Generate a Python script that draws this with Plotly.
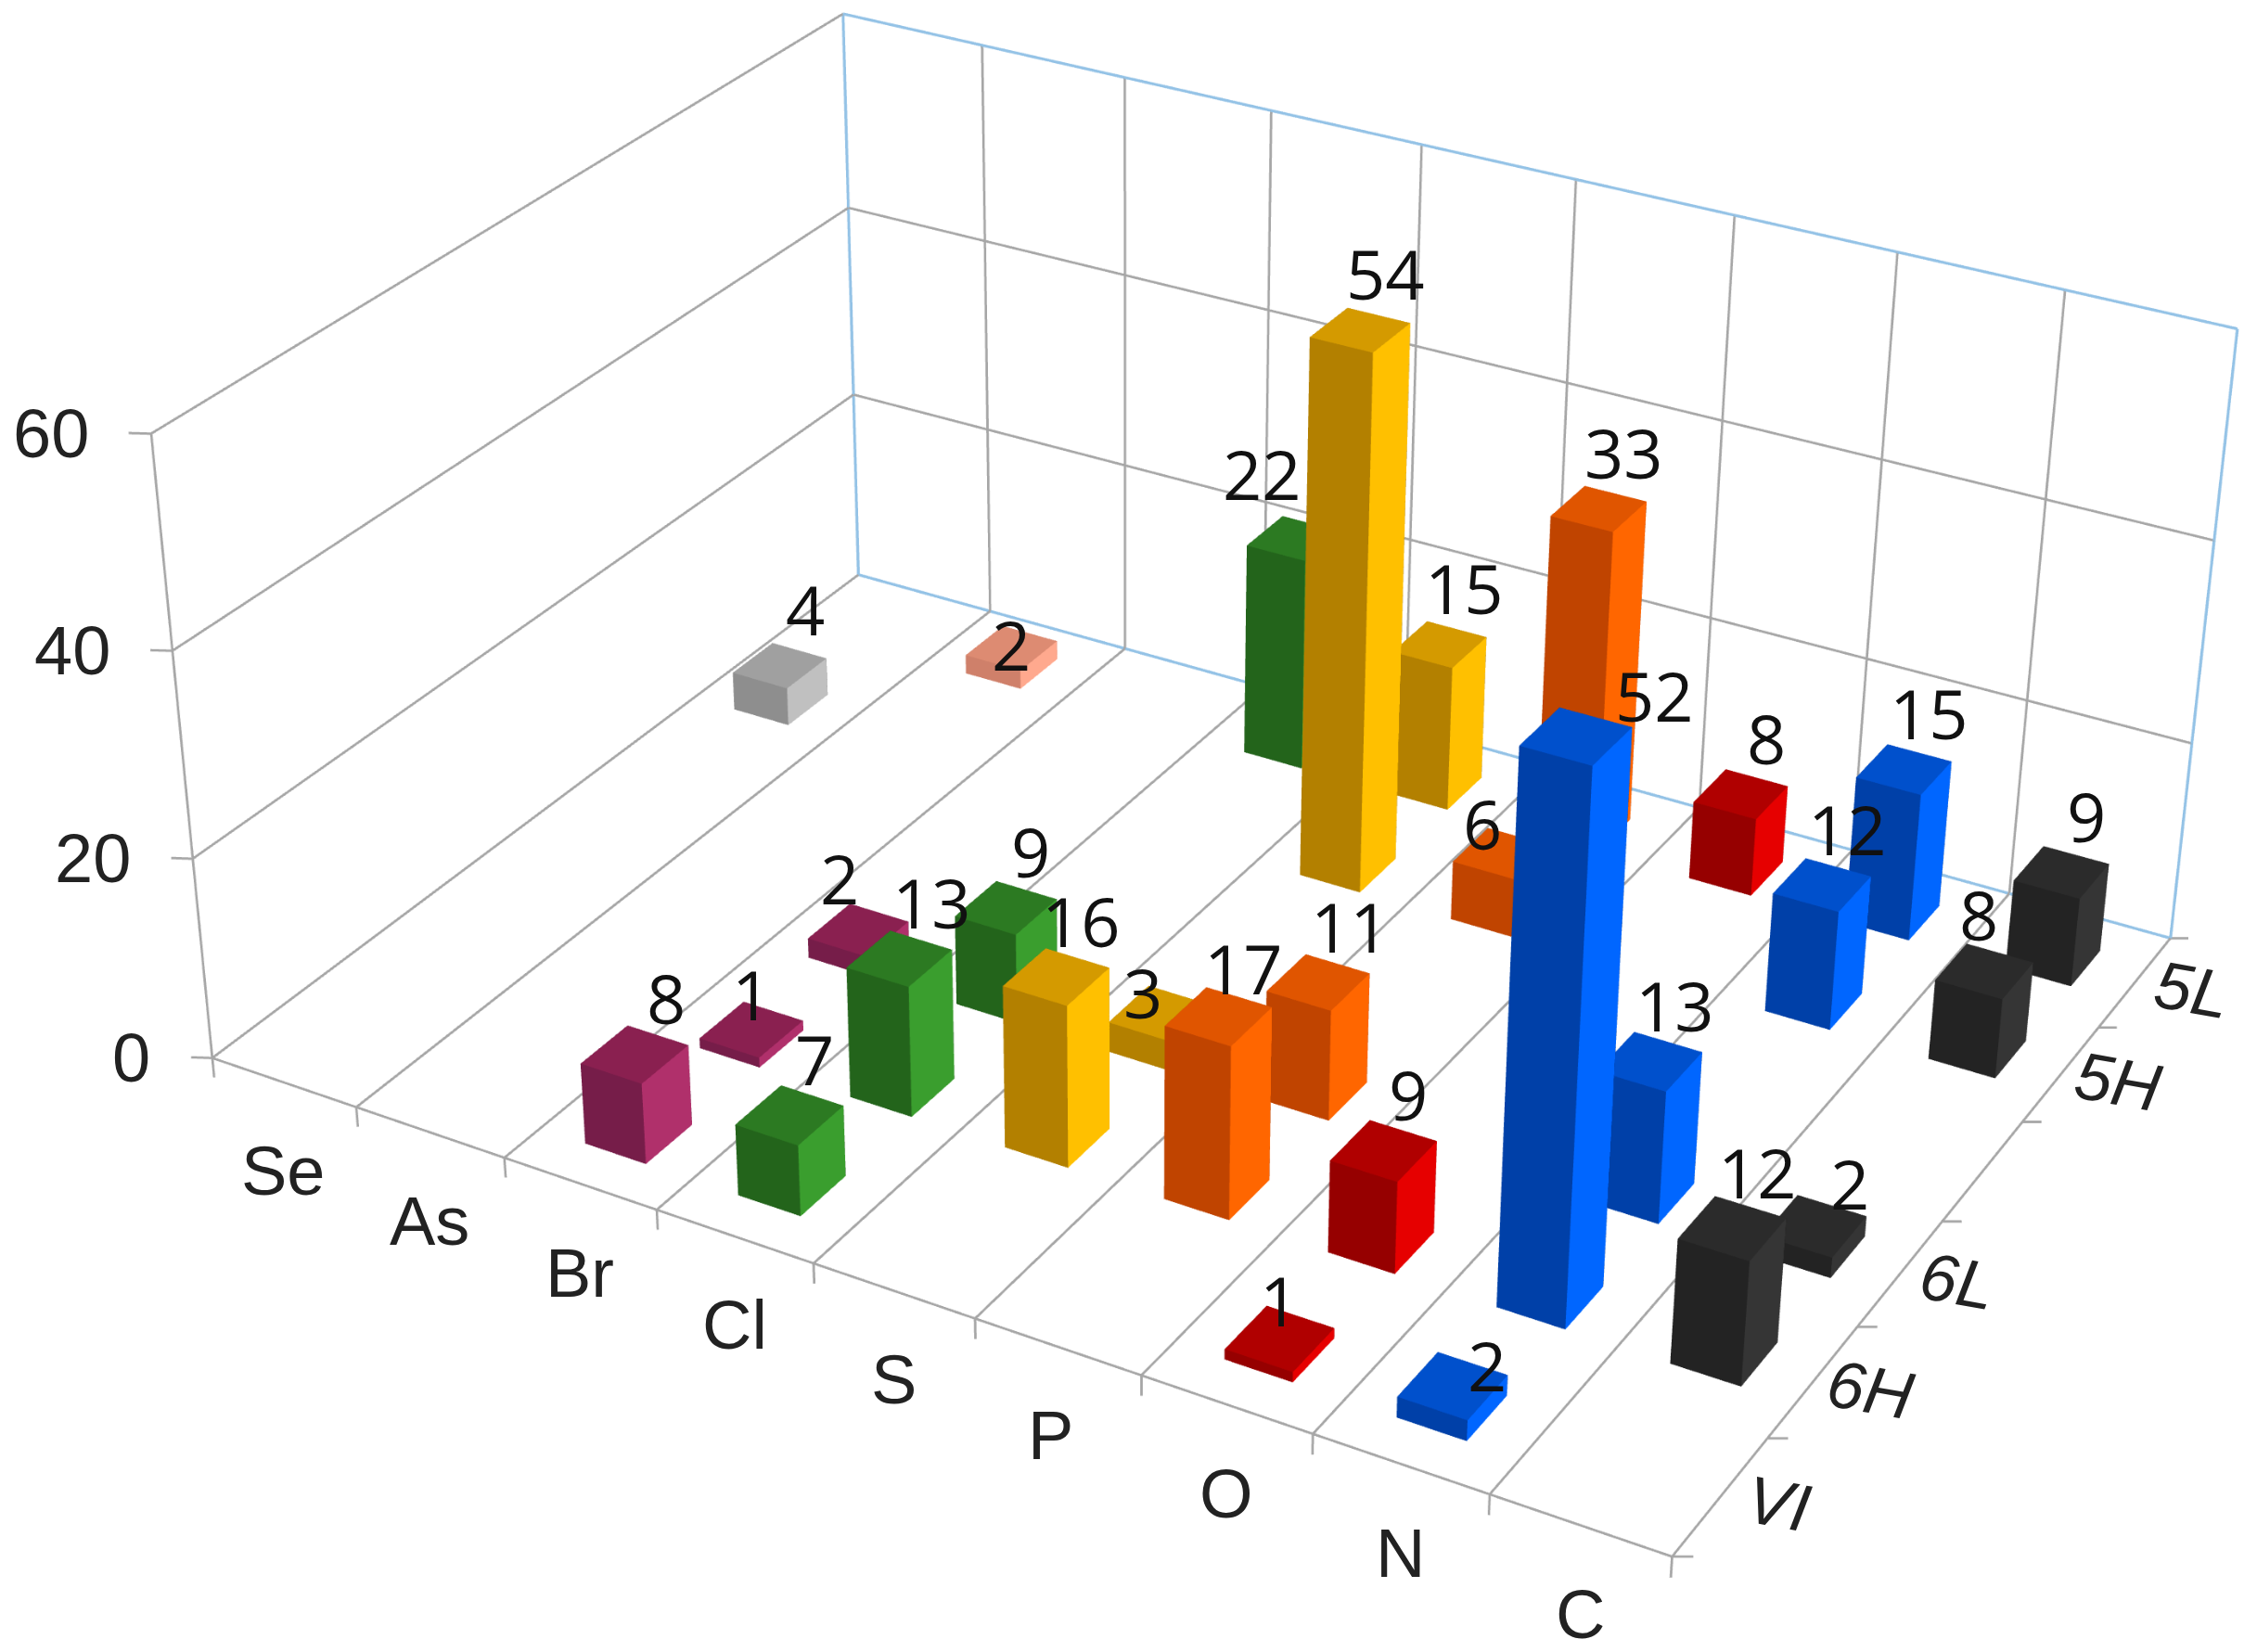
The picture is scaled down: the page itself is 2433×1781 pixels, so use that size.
import plotly.graph_objects as go

# ---------- data ----------
elements = ["Se", "As", "Br", "Cl", "S", "P", "O", "N", "C"]
rows = ["VI", "6H", "6L", "", "5H", "5L"]
Se = [None, None, None, None, 4, None]
As = [None, None, None, None, None, 2]
Br = [8, 1, 2, None, None, None]
Cl = [7, 13, 9, None, None, 22]
S_ = [None, 16, 3, None, 54, 15]
P_ = [None, 17, 11, None, 6, 33]
O_ = [1, 9, None, None, None, 8]
N_ = [2, 52, 13, None, 12, 15]
C_ = [None, 12, 2, None, 8, 9]
series_values = [Se, As, Br, Cl, S_, P_, O_, N_, C_]
z_ticks = [0, 20, 40, 60]

# face colours: top, front, right
shades = [
    ("#a0a0a0", "#8e8e8e", "#c0c0c0"),
    ("#dd8b72", "#cf806a", "#ffa98e"),
    ("#8a2050", "#761d49", "#b0306b"),
    ("#2c7a22", "#23641b", "#3a9e2e"),
    ("#d49a00", "#b38000", "#ffc000"),
    ("#e05500", "#c04400", "#ff6600"),
    ("#b00000", "#960000", "#e60000"),
    ("#0050cc", "#0040a8", "#0066ff"),
    ("#2b2b2b", "#232323", "#353535"),
]
BAR = 0.40
GRID = "#a6a6a6"
EDGE = "#93c2e6"
LABEL_FONT = "Open Sans"
AXIS_FONT = "Liberation Sans"

# camera in world units where the u=0..9 span is 1 wide
FS = 2.8109
WIN_W, WIN_H = 2433, 1781
FIG_H = round(WIN_H * FS)
FIG_W = FIG_H  # square: fixed vertical field of view, no horizontal stretch
eye0 = (1.4659, -2.6243, 1.6645)
cen0 = (-0.0181, -0.0688, -0.0614)
asp0 = (1.0, 0.7457, 0.4315)
nu, nv, nw = len(elements), len(rows), z_ticks[-1]
rng = [(-0.3, nu + 0.3), (-0.2, nv + 0.2), (-3, nw + 1)]
k = (asp0[0] / nu, asp0[1] / nv, asp0[2] / nw)
mid_true = (nu / 2, nv / 2, nw / 2)
off = [((r[0] + r[1]) / 2 - m) * s for r, m, s in zip(rng, mid_true, k)]
asp = [(r[1] - r[0]) * s for r, s in zip(rng, k)]
eye = [e - o for e, o in zip(eye0, off)]
cen = [c - o for c, o in zip(cen0, off)]

fig = go.Figure()


def lines(segs, color, width, name):
    xs, ys, zs = [], [], []
    for a, b in segs:
        xs += [a[0], b[0], None]
        ys += [a[1], b[1], None]
        zs += [a[2], b[2], None]
    fig.add_trace(go.Scatter3d(x=xs, y=ys, z=zs, mode="lines", name=name,
                               line=dict(color=color, width=width),
                               hoverinfo="skip", showlegend=False))


grey = []
for u in range(1, nu + 1):
    grey.append(((u, 0, 0), (u, nv, 0)))                 # floor
    grey.append(((u, 0, 0), (u, 0, -2.0)))               # tick
for u in range(1, nu):
    grey.append(((u, nv, 0), (u, nv, nw)))               # back wall
grey.append(((0, 0, 0), (0, 0, -2.0)))
for v in range(0, nv + 1):
    grey.append(((nu, v, 0), (nu + 0.09, v + 0.047, 0))) # y tick
for w in z_ticks:
    grey.append(((0, 0, w), (0, nv, w)))                 # left wall
    grey.append(((0, 0, w), (-0.107, -0.048, w)))        # z tick
    if 0 < w < nw:
        grey.append(((0, nv, w), (nu, nv, w)))
grey.append(((0, 0, 0), (nu, 0, 0)))
grey.append(((0, 0, 0), (0, 0, nw)))
lines(grey, GRID, 3, "grid")
lines([((0, nv, 0), (nu, nv, 0)), ((0, nv, nw), (nu, nv, nw)),
       ((0, nv, 0), (0, nv, nw)), ((nu, nv, 0), (nu, nv, nw))], EDGE, 3.5, "walls")

# bars
for iu, (name, vals, sh) in enumerate(zip(elements, series_values, shades)):
    X, Y, Z, I, J, K, FC = [], [], [], [], [], [], []
    for iv, val in enumerate(vals):
        if val is None:
            continue
        a = iu + 0.5 - BAR / 2
        b = iu + 0.5 + BAR / 2
        c = iv + 0.5 - BAR / 2
        d = iv + 0.5 + BAR / 2
        n = len(X)
        X += [a, b, b, a, a, b, b, a]
        Y += [c, c, d, d, c, c, d, d]
        Z += [0, 0, 0, 0, val, val, val, val]
        quads = [((4, 5, 6), (4, 6, 7), sh[0]),   # top
                 ((0, 1, 5), (0, 5, 4), sh[1]),   # front
                 ((1, 2, 6), (1, 6, 5), sh[2]),   # right
                 ((0, 3, 7), (0, 7, 4), sh[1]),
                 ((3, 2, 6), (3, 6, 7), sh[1])]
        for t1, t2, col in quads:
            for t in (t1, t2):
                I.append(n + t[0]); J.append(n + t[1]); K.append(n + t[2]); FC.append(col)
    if X:
        fig.add_trace(go.Mesh3d(x=X, y=Y, z=Z, i=I, j=J, k=K, facecolor=FC, name=name,
                                flatshading=True, hoverinfo="skip", showlegend=False,
                                lighting=dict(ambient=1, diffuse=0, specular=0, fresnel=0, roughness=1)))

# text
ann = []
DX, DY = 27, 61
label_nudge = {("N", 1): (85, 44), ("Cl", 5): (-34, 70), ("C", 4): (-6, 62),
               ("O", 0): (0, 42), ("N", 0): (37, 23), ("As", 5): (0, 4),
               ("Br", 1): (0, 38), ("S", 2): (-18, 23), ("Br", 2): (-20, 56),
               ("P", 4): (-20, 33), ("C", 2): (38, 46), ("P", 1): (27, 52),
               ("P", 2): (35, 61), ("Br", 0): (34, 61), ("Cl", 1): (35, 61)}
for iu, (name, vals) in enumerate(zip(elements, series_values)):
    for iv, val in enumerate(vals):
        if val is None:
            continue
        dx, dy = label_nudge.get((name, iv), (DX, DY))
        ann.append(dict(x=iu + 0.5, y=iv + 0.5, z=val, text=str(val), showarrow=False,
                        xanchor="center", yanchor="middle", xshift=dx, yshift=dy,
                        font=dict(family=LABEL_FONT, size=74, color="#111111")))
for iu, name in enumerate(elements):
    ann.append(dict(x=iu + 0.5, y=0, z=0, text=name, showarrow=False, xanchor="center",
                    yanchor="middle", yshift=-96, xshift=-8 if name == "P" else 0,
                    font=dict(family=AXIS_FONT, size=74, color="#222222")))
for iv, name in enumerate(rows):
    if name:
        ann.append(dict(x=nu, y=iv + 0.5, z=0, text="<i>%s</i>" % name, showarrow=False, xanchor="center",
                        yanchor="middle", xshift=62, yshift=-8, textangle=10,
                        font=dict(family=AXIS_FONT, size=72, color="#222222")))
for w in z_ticks:
    ann.append(dict(x=0, y=0, z=w, text=str(w), showarrow=False, xanchor="right",
                    yanchor="middle", xshift=-65, font=dict(family=AXIS_FONT, size=74, color="#222222")))

hidden = dict(visible=False, showgrid=False, zeroline=False, showticklabels=False, showbackground=False)
fig.update_layout(
    width=FIG_W, height=FIG_H, margin=dict(l=0, r=0, t=0, b=0, pad=0),
    paper_bgcolor="white", showlegend=False,
    scene=dict(
        domain=dict(x=[0, 1], y=[0, 1]),
        xaxis=dict(range=rng[0], **hidden),
        yaxis=dict(range=rng[1], **hidden),
        zaxis=dict(range=rng[2], **hidden),
        aspectmode="manual",
        aspectratio=dict(x=asp[0], y=asp[1], z=asp[2]),
        camera=dict(eye=dict(x=eye[0], y=eye[1], z=eye[2]),
                    center=dict(x=cen[0], y=cen[1], z=cen[2]),
                    up=dict(x=0, y=0, z=1),
                    projection=dict(type="perspective")),
        annotations=ann,
    ),
)
left = (FIG_W - WIN_W) // 2
top = (FIG_H - WIN_H) // 2
post = ("document.documentElement.style.overflow='hidden';document.body.style.overflow='hidden';"
        "var g=document.getElementById('{plot_id}');g.style.position='absolute';"
        "g.style.left='-%dpx';g.style.top='-%dpx';" % (left, top))
fig.write_html("out.html", config=dict(displayModeBar=False), post_script=post)
